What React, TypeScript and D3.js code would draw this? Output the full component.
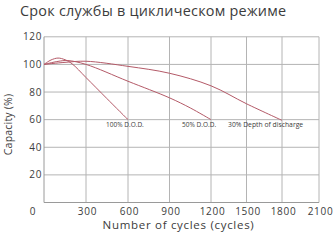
import React from "react";
import * as d3 from "d3";

const title = "Срок службы в циклическом режиме";
const xTicks = [0, 300, 600, 900, 1200, 1500, 1800, 2100];
const yTicks = [20, 40, 60, 80, 100, 120];

const dod100 = [
  { c: 0, v: 100 }, { c: 50, v: 103.2 }, { c: 100, v: 104.6 }, { c: 150, v: 103.4 },
  { c: 200, v: 100.5 }, { c: 300, v: 90.5 }, { c: 450, v: 75.2 }, { c: 600, v: 60 },
];
const dod50 = [
  { c: 0, v: 100 }, { c: 100, v: 102.2 }, { c: 170, v: 102.8 }, { c: 300, v: 100 },
  { c: 600, v: 87.8 }, { c: 900, v: 75.8 }, { c: 1050, v: 68.5 }, { c: 1200, v: 60 },
];
const dod30 = [
  { c: 0, v: 100 }, { c: 150, v: 101.5 }, { c: 300, v: 102.3 }, { c: 600, v: 98.6 },
  { c: 900, v: 93.6 }, { c: 1200, v: 84.5 }, { c: 1500, v: 71.5 }, { c: 1800, v: 59.5 },
];
const seriesLabels = ["100% D.O.D.", "50% D.O.D.", "30% Depth of discharge"];

export default function App() {
  const W = 336, H = 240;
  const x = d3.scaleLinear().domain(xTicks).range([44, 86, 128, 169.5, 211, 246.5, 282, 319]);
  const y = d3.scaleLinear().domain([0, 120]).range([202.5, 36.8]);
  const line = d3
    .line<{ c: number; v: number }>()
    .x((d) => x(d.c))
    .y((d) => y(d.v))
    .curve(d3.curveCatmullRom.alpha(0.5));
  const font = "'Open Sans', 'Noto Sans', sans-serif";
  const curveColor = "#b45a68";
  const grid = "#b4b4b4";
  const txt = "#3c3c3c";
  const series = [dod100, dod50, dod30];
  return (
    <svg width={W} height={H} style={{ position: "absolute", left: 0, top: 0, background: "#fff" }}>
      <text x={20} y={16} fontFamily={font} fontSize={14.4} letterSpacing={0.25} fill={txt}>{title}</text>
      {yTicks.map((t) => (
        <line key={"gy" + t} x1={x(0)} x2={x(2100)} y1={y(t)} y2={y(t)} stroke={grid} strokeWidth={1} />
      ))}
      {xTicks.slice(1).map((t) => (
        <line key={"gx" + t} x1={x(t)} x2={x(t)} y1={y(0)} y2={y(120)} stroke={grid} strokeWidth={1} />
      ))}
      <line x1={x(0)} x2={x(0)} y1={y(0)} y2={y(120)} stroke="#9a9a9a" strokeWidth={1} />
      <line x1={x(0)} x2={x(2100)} y1={y(0)} y2={y(0)} stroke="#9a9a9a" strokeWidth={1} />
      {yTicks.map((t) => (
        <text key={"yt" + t} x={42} y={y(t)} dy="0.35em" textAnchor="end" fontFamily={font} fontSize={10} letterSpacing={0.6} fill={txt}>{t}</text>
      ))}
      {xTicks.map((t) => (
        <text key={"xt" + t} x={t === 0 ? x(t) - 11 : x(t) + 1.5} y={211} dy="0.35em" textAnchor="middle" fontFamily={font} fontSize={10} letterSpacing={0.7} fill={txt}>{t}</text>
      ))}
      <text transform={`translate(8,124.5) rotate(-90)`} textAnchor="middle" dy="0.35em" fontFamily={font} fontSize={10.5} letterSpacing={0.2} fill={txt}>Capacity (%)</text>
      <text x={178.5} y={225} dy="0.35em" textAnchor="middle" fontFamily={font} fontSize={11.5} letterSpacing={0.7} fill={txt}>Number of cycles (cycles)</text>
      {series.map((s, i) => (
        <path key={"s" + i} d={line(s) || ""} fill="none" stroke={curveColor} strokeWidth={1} />
      ))}
      <text x={106} y={124.5} dy="0.35em" fontFamily={font} fontSize={6.5} fill={txt}>{seriesLabels[0]}</text>
      <text x={182} y={124.5} dy="0.35em" fontFamily={font} fontSize={6.5} fill={txt}>{seriesLabels[1]}</text>
      <text x={228} y={124.5} dy="0.35em" fontFamily={font} fontSize={6.8} fill={txt}>{seriesLabels[2]}</text>
    </svg>
  );
}
